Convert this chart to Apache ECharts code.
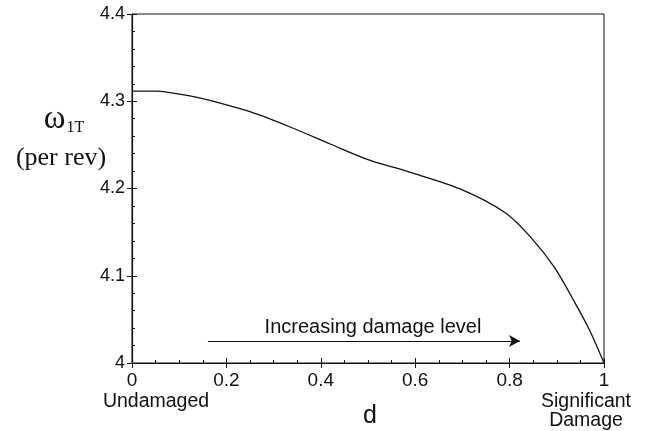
<!DOCTYPE html>
<html>
<head>
<meta charset="utf-8">
<script src="https://cdn.jsdelivr.net/npm/echarts@6/dist/echarts.min.js"></script>
<style>
    html, body { margin: 0; padding: 0; background: #fff; }
    #chart { width: 653px; height: 431px; }
</style>
</head>
<body>
<div id="chart"></div>
<script>
    // damage level d and first torsion frequency (per rev)
    const damage = [0, 0.05, 0.08, 0.12, 0.165, 0.25, 0.335, 0.42, 0.5, 0.59, 0.695, 0.79, 0.845, 0.895, 0.94, 0.97, 1.0];
    const omega = [4.3115, 4.3115, 4.310, 4.3065, 4.301, 4.288, 4.2705, 4.251, 4.233, 4.2185, 4.1995, 4.1725, 4.144, 4.1095, 4.0675, 4.037, 4.0];

    const xTicks = { min: 0, max: 1, interval: 0.2 };
    const yTicks = { min: 4, max: 4.4, interval: 0.1 };

    // arrow "Increasing damage level" in data units
    const arrowFrom = [0.161, 4.0253];
    const arrowTo = [0.822, 4.0253];

    const INK = '#111';
    const SANS = '"Liberation Sans", Arial, sans-serif';
    const SERIF = '"Liberation Serif", "Times New Roman", serif';

    const chart = echarts.init(document.getElementById('chart'));

    // second axis on the same side, only for the outer half of the major ticks
    const hiddenTwin = (base) => Object.assign({}, base, {
        type: 'value',
        axisLine: { show: false },
        axisLabel: { show: false },
        axisTick: { show: true, inside: false, length: 5, lineStyle: { color: INK, width: 1 } },
        minorTick: { show: false },
        splitLine: { show: false }
    });

    chart.setOption({
        animation: false,
        backgroundColor: '#fff',
        grid: {
            left: 132,
            right: 49,
            top: 14,
            bottom: 68,
            show: true,
            borderColor: INK,
            borderWidth: 1
        },
        xAxis: [{
            type: 'value',
            position: 'bottom',
            min: xTicks.min,
            max: xTicks.max,
            interval: xTicks.interval,
            axisLine: { lineStyle: { color: INK, width: 1.2 } },
            axisTick: { inside: true, length: 5, lineStyle: { color: INK } },
            minorTick: { show: true, splitNumber: 4, length: 3, lineStyle: { color: INK } },
            splitLine: { show: false },
            axisLabel: {
                color: INK,
                fontFamily: SANS,
                fontSize: 19,
                margin: 8,
                formatter: (v) => String(+v.toFixed(1))
            }
        }, hiddenTwin({
            position: 'bottom',
            min: xTicks.min,
            max: xTicks.max,
            interval: xTicks.interval
        })],
        yAxis: [{
            type: 'value',
            position: 'left',
            min: yTicks.min,
            max: yTicks.max,
            interval: yTicks.interval,
            axisLine: { lineStyle: { color: INK, width: 1.2 } },
            axisTick: { inside: true, length: 5, lineStyle: { color: INK } },
            minorTick: { show: true, splitNumber: 5, length: 3, lineStyle: { color: INK } },
            splitLine: { show: false },
            axisLabel: {
                color: INK,
                fontFamily: SANS,
                fontSize: 18,
                margin: 7,
                formatter: (v) => String(+v.toFixed(1))
            }
        }, hiddenTwin({
            position: 'left',
            min: yTicks.min,
            max: yTicks.max,
            interval: yTicks.interval
        })],
        series: [{
            type: 'line',
            xAxisIndex: 0,
            yAxisIndex: 0,
            data: damage.map((d, i) => [d, omega[i]]),
            smooth: 0.3,
            showSymbol: false,
            lineStyle: { color: INK, width: 1.3 },
            markLine: {
                silent: true,
                symbol: ['none', 'arrow'],
                symbolSize: [9, 11],
                label: { show: false },
                lineStyle: { color: INK, width: 1.2, type: 'solid' },
                data: [[{ coord: arrowFrom }, { coord: arrowTo }]]
            }
        }],
        graphic: [{
            type: 'text',
            x: 64, y: 119,
            style: {
                text: '{w|ω}{s|1T}',
                fill: INK,
                rich: {
                    w: { fontFamily: SERIF, fontSize: 33, fill: INK, padding: [0, 1, 0, 0] },
                    s: { fontFamily: SERIF, fontSize: 16, fill: INK, verticalAlign: 'bottom', padding: [18, 0, 0, 0] }
                },
                align: 'center',
                verticalAlign: 'middle'
            }
        }, {
            type: 'text',
            x: 61, y: 158,
            style: {
                text: '(per rev)',
                fontFamily: SERIF, fontSize: 26, fill: INK,
                align: 'center', verticalAlign: 'middle'
            }
        }, {
            type: 'text',
            x: 156, y: 402,
            style: {
                text: 'Undamaged',
                fontFamily: SANS, fontSize: 19.5, fill: INK,
                align: 'center', verticalAlign: 'middle'
            }
        }, {
            type: 'text',
            x: 586, y: 411,
            style: {
                text: 'Significant\nDamage',
                fontFamily: SANS, fontSize: 19.5, lineHeight: 19, fill: INK,
                align: 'center', verticalAlign: 'middle'
            }
        }, {
            type: 'text',
            x: 370, y: 416,
            style: {
                text: 'd',
                fontFamily: SANS, fontSize: 25, fill: INK,
                align: 'center', verticalAlign: 'middle'
            }
        }, {
            type: 'text',
            x: 373, y: 327,
            style: {
                text: 'Increasing damage level',
                fontFamily: SANS, fontSize: 20, fill: INK,
                align: 'center', verticalAlign: 'middle'
            }
        }]
    });
</script>
</body>
</html>
